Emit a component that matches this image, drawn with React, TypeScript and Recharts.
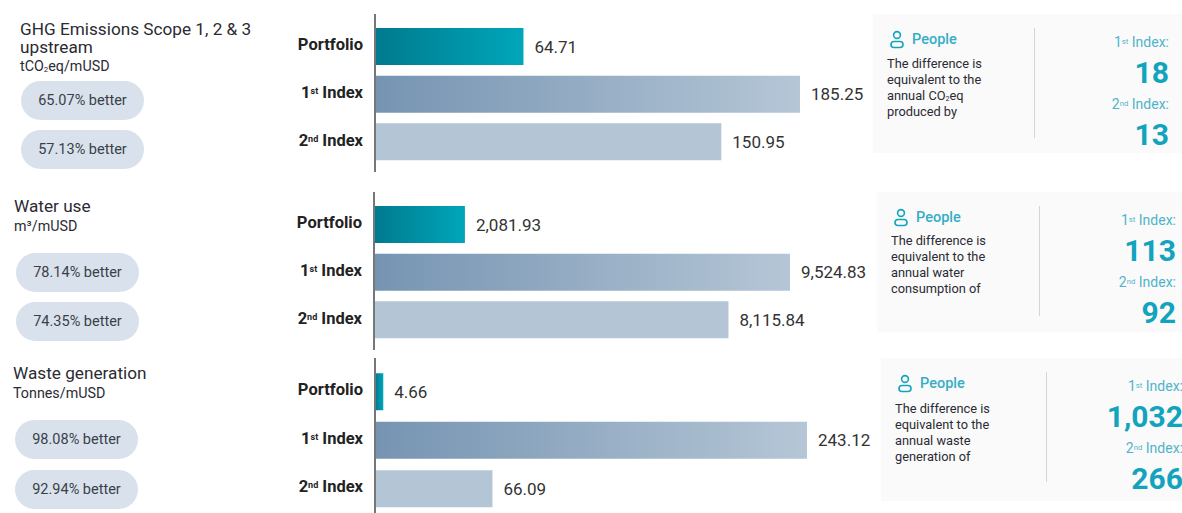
import React from 'react';
import { BarChart, Bar, XAxis, YAxis, Cell, LabelList } from 'recharts';

const categories = ['Portfolio', '1st Index', '2nd Index'];
const ghgValues = [64.71, 185.25, 150.95];
const waterValues = [2081.93, 9524.83, 8115.84];
const wasteValues = [4.66, 243.12, 66.09];

const ghgBetter = ['65.07% better', '57.13% better'];
const waterBetter = ['78.14% better', '74.35% better'];
const wasteBetter = ['98.08% better', '92.94% better'];

const ghgEquivalent = ['18', '13'];
const waterEquivalent = ['113', '92'];
const wasteEquivalent = ['1,032', '266'];

const ghgNote = ['The difference is', 'equivalent to the', <>annual CO<Sub>2</Sub>eq</>, 'produced by'];
const waterNote = ['The difference is', 'equivalent to the', 'annual water', 'consumption of'];
const wasteNote = ['The difference is', 'equivalent to the', 'annual waste', 'generation of'];

const FONT = 'Roboto, sans-serif';
const TEAL = '#12a3bd';

function Sub({ children }: { children: React.ReactNode }) {
  return <span style={{ fontSize: '0.55em', lineHeight: 0, verticalAlign: '-0.1em' }}>{children}</span>;
}

function Sup({ children }: { children: React.ReactNode }) {
  return <span style={{ fontSize: '0.55em', lineHeight: 0, verticalAlign: '0.35em' }}>{children}</span>;
}

const CategoryTick = ({ x, y, payload }: any) => {
  const m = String(payload.value).match(/^(\d)(st|nd) (.*)$/);
  return (
    <text x={x} y={y} dy={3.5} textAnchor="end" fontFamily={FONT} fontSize={16.5} fontWeight={700} fill="#222">
      {m ? (
        <>
          <tspan>{m[1]}</tspan>
          <tspan fontSize={9} dy={-4}>{m[2]}</tspan>
          <tspan dy={4}> {m[3]}</tspan>
        </>
      ) : (
        payload.value
      )}
    </text>
  );
};

const fmt = (v: number) => v.toLocaleString('en-US', { minimumFractionDigits: 2, maximumFractionDigits: 2 });

function MetricChart({ id, values, axisX, endX, top, height, padTop, padBottom }: any) {
  const data = categories.map((name, i) => ({ name, value: values[i] }));
  const left = 240;
  return (
    <div style={{ position: 'absolute', left, top }}>
      <BarChart
        layout="vertical"
        width={endX - left + 90}
        height={height}
        data={data}
        margin={{ top: 0, right: 90, bottom: 0, left: 0 }}
      >
        <defs>
          <linearGradient id={id + '-p'} x1="0" y1="0" x2="1" y2="0">
            <stop offset="0%" stopColor="#007a8e" />
            <stop offset="100%" stopColor="#00a6ba" />
          </linearGradient>
          <linearGradient id={id + '-a'} x1="0" y1="0" x2="1" y2="0">
            <stop offset="0%" stopColor="#7694b2" />
            <stop offset="100%" stopColor="#b5c6d6" />
          </linearGradient>
        </defs>
        <XAxis type="number" hide domain={[0, Math.max(...values)]} />
        <YAxis
          type="category"
          dataKey="name"
          width={axisX - left}
          tick={<CategoryTick />}
          tickLine={false}
          axisLine={{ stroke: '#777', strokeWidth: 2 }}
          tickMargin={6}
          padding={{ top: padTop, bottom: padBottom }}
          interval={0}
        />
        <Bar dataKey="value" barSize={37} isAnimationActive={false}>
          {data.map((d, i) => (
            <Cell key={d.name} fill={i === 0 ? `url(#${id}-p)` : i === 1 ? `url(#${id}-a)` : '#b4c5d6'} />
          ))}
          <LabelList
            dataKey="value"
            position="right"
            offset={11}
            formatter={fmt}
            style={{ fontFamily: FONT, fontSize: 17, fill: '#333' }}
          />
        </Bar>
      </BarChart>
    </div>
  );
}

function Heading({ x, y, title, unit, gap }: any) {
  return (
    <div style={{ position: 'absolute', left: x, top: y, width: 250, fontFamily: FONT, color: '#2b2b33' }}>
      <div style={{ fontSize: 17.2, lineHeight: '18px', whiteSpace: 'nowrap' }}>{title}</div>
      <div style={{ fontSize: 14.3, lineHeight: '18px', marginTop: gap }}>{unit}</div>
    </div>
  );
}

function Pill({ x, y, text }: any) {
  return (
    <div
      style={{
        position: 'absolute',
        left: x,
        top: y,
        width: 123,
        height: 39,
        borderRadius: 20,
        background: '#d9e2ec',
        fontFamily: FONT,
        fontSize: 14.5,
        lineHeight: '40px',
        textAlign: 'center',
        color: '#3a3f48',
      }}
    >
      {text}
    </div>
  );
}

function Card({ x, y, h, dividerX, rightX, note, equivalent, noteTop }: any) {
  const idx = (n: string, s: string) => (
    <>
      {n}
      <Sup>{s}</Sup> Index:
    </>
  );
  const labelStyle: React.CSSProperties = {
    position: 'absolute',
    right: 1182 - rightX,
    fontFamily: FONT,
    fontSize: 14,
    lineHeight: '16px',
    color: '#4fb4c9',
    whiteSpace: 'nowrap',
  };
  const numStyle: React.CSSProperties = {
    position: 'absolute',
    right: 1182 - rightX,
    fontFamily: FONT,
    fontSize: 30,
    fontWeight: 700,
    lineHeight: '32px',
    color: TEAL,
    whiteSpace: 'nowrap',
  };
  return (
    <div style={{ position: 'absolute', left: 0, top: y, width: 1182, height: h, overflow: 'hidden' }}>
      <div style={{ position: 'absolute', left: x, top: 0, width: 1182 - x, height: h, background: '#fafafa' }} />
      <svg style={{ position: 'absolute', left: x + 16, top: 16 }} width={16} height={20} viewBox="0 0 16 20">
        <circle cx={8} cy={5} r={3.4} fill="none" stroke={TEAL} strokeWidth={1.6} />
        <rect x={2} y={11.5} width={12} height={6} rx={3} fill="none" stroke={TEAL} strokeWidth={1.6} />
      </svg>
      <div style={{ position: 'absolute', left: x + 39, top: 17, fontFamily: FONT, fontSize: 14.5, fontWeight: 500, lineHeight: '18px', color: '#35adc6' }}>
        People
      </div>
      <div style={{ position: 'absolute', left: x + 14, top: noteTop, fontFamily: FONT, fontSize: 12.8, lineHeight: '16px', color: '#2b2b33', whiteSpace: 'nowrap' }}>
        {note.map((line: any, i: number) => (
          <div key={i}>{line}</div>
        ))}
      </div>
      <div style={{ position: 'absolute', left: dividerX, top: 14, width: 1, height: 110, background: '#d5d5d5' }} />
      <div style={{ ...labelStyle, top: 20 }}>{idx('1', 'st')}</div>
      <div style={{ ...numStyle, top: 43 }}>{equivalent[0]}</div>
      <div style={{ ...labelStyle, top: 82 }}>{idx('2', 'nd')}</div>
      <div style={{ ...numStyle, top: 105 }}>{equivalent[1]}</div>
    </div>
  );
}

export default function App() {
  return (
    <div style={{ position: 'absolute', left: 0, top: 0, width: 1182, height: 513, background: '#fff', overflow: 'hidden' }}>
      <Heading x={20} y={20} gap={1} title={<>GHG Emissions Scope 1, 2 &amp; 3<br />upstream</>} unit={<>tCO<Sub>2</Sub>eq/mUSD</>} />
      <Pill x={21} y={81} text={ghgBetter[0]} />
      <Pill x={21} y={130} text={ghgBetter[1]} />
      <MetricChart id="ghg" values={ghgValues} axisX={375} endX={800} top={14} height={158} padTop={9} padBottom={6} />
      <Card x={873} y={14} h={139} dividerX={1034} rightX={1169} noteTop={42} note={ghgNote} equivalent={ghgEquivalent} />

      <Heading x={14} y={197} gap={2} title="Water use" unit={<>m³/mUSD</>} />
      <Pill x={16} y={253} text={waterBetter[0]} />
      <Pill x={16} y={302} text={waterBetter[1]} />
      <MetricChart id="water" values={waterValues} axisX={374} endX={790} top={192} height={158} padTop={9} padBottom={6} />
      <Card x={877} y={192} h={140} dividerX={1039} rightX={1176} noteTop={41} note={waterNote} equivalent={waterEquivalent} />

      <Heading x={13} y={364} gap={2} title="Waste generation" unit="Tonnes/mUSD" />
      <Pill x={15} y={420} text={wasteBetter[0]} />
      <Pill x={15} y={470} text={wasteBetter[1]} />
      <MetricChart id="waste" values={wasteValues} axisX={375} endX={807} top={358} height={155} padTop={9.25} padBottom={0.25} />
      <Card x={881} y={358} h={143} dividerX={1046} rightX={1183} noteTop={43} note={wasteNote} equivalent={wasteEquivalent} />
    </div>
  );
}
